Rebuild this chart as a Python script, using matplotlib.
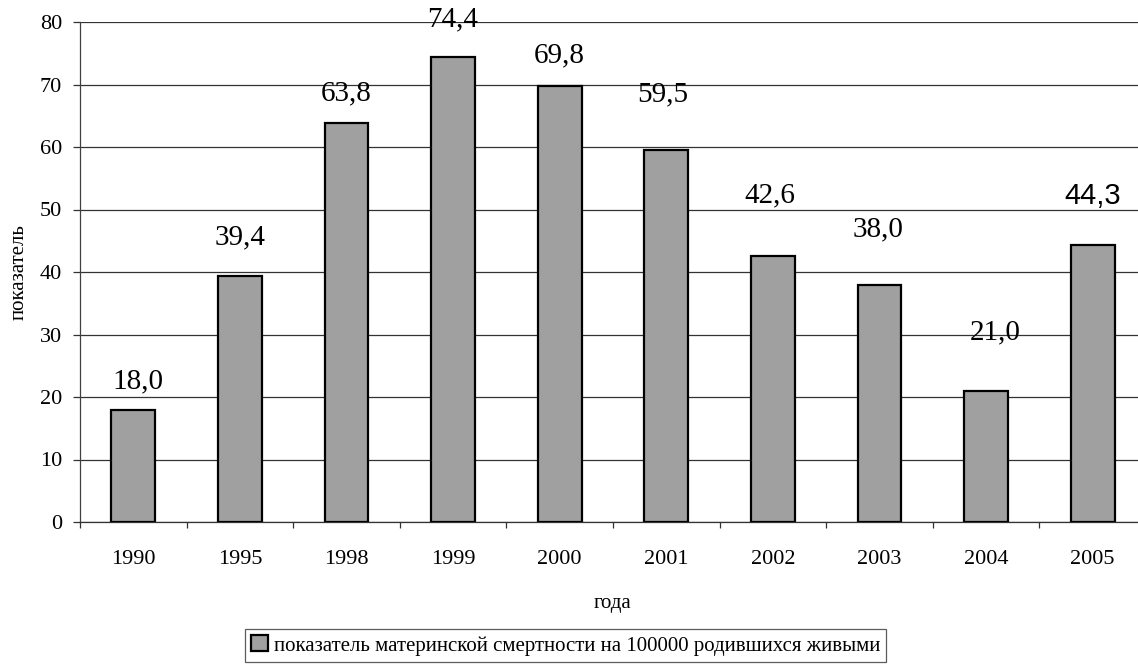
import matplotlib
matplotlib.use('Agg')
import matplotlib.pyplot as plt

# maternal mortality per 100000 live births
years = ['1990', '1995', '1998', '1999', '2000', '2001', '2002', '2003', '2004', '2005']
values = [18.0, 39.4, 63.8, 74.4, 69.8, 59.5, 42.6, 38.0, 21.0, 44.3]

# label placement above each bar (pixels)
label_offsets = [(5, 28), (0, 38), (0, 30), (0, 38), (0, 30),
                 (-4, 56), (-3, 60), (-1, 55), (9, 58), (0, 49)]

plt.rcParams['font.family'] = ['Liberation Serif', 'DejaVu Serif']

fig = plt.figure(figsize=(11.38, 6.64), dpi=100)
ax = fig.add_axes([80 / 1138, 142 / 664, 1066 / 1138, 500 / 664])

x = range(len(years))
bars = ax.bar(x, values, width=0.41, color='#a0a0a0', edgecolor='black',
              linewidth=1.6, zorder=3,
              label='показатель материнской смертности на 100000 родившихся живыми')

for i, (v, off) in enumerate(zip(values, label_offsets)):
    txt = f'{v:.1f}'.replace('.', ',')
    kw = {}
    if years[i] == '2005':
        kw['family'] = ['Liberation Sans', 'DejaVu Sans']
    ax.annotate(txt, (i, v), xytext=off, textcoords='offset pixels',
                ha='center', va='center', fontsize=21, **kw)

ax.set_xlim(-0.5, len(years) - 0.5)
ax.set_ylim(0, 80)
ax.set_yticks(range(0, 81, 10))
ax.yaxis.grid(True, color='#333333', linewidth=0.9, zorder=0)

ax.set_xticks(list(x))
ax.set_xticklabels(years)
ax.set_xticks([i - 0.5 for i in range(len(years) + 1)], minor=True)
ax.tick_params(axis='x', which='major', length=0, pad=20, labelsize=16)
ax.tick_params(axis='x', which='minor', length=4.5, width=0.9, color='#333333')
ax.tick_params(axis='y', length=5, width=0.9, color='#333333', pad=8, labelsize=16)

for side in ['top', 'right']:
    ax.spines[side].set_visible(False)
ax.spines['left'].set_color('#404040')
ax.spines['bottom'].set_color('#333333')
ax.spines['left'].set_linewidth(0.9)
ax.spines['bottom'].set_linewidth(0.9)

ax.set_xlabel('года', fontsize=15, labelpad=18)
ax.set_ylabel('показатель', fontsize=15, labelpad=8)

leg = fig.legend(handles=[bars], loc='lower center', bbox_to_anchor=(0.497, 0.0),
                 fontsize=15, frameon=True, fancybox=False, borderpad=0.3,
                 handlelength=0.8, handleheight=0.8, handletextpad=0.3,
                 borderaxespad=0.1)
leg.get_frame().set_edgecolor('#333333')
leg.get_frame().set_linewidth(0.9)

fig.savefig('out.png', dpi=100)
